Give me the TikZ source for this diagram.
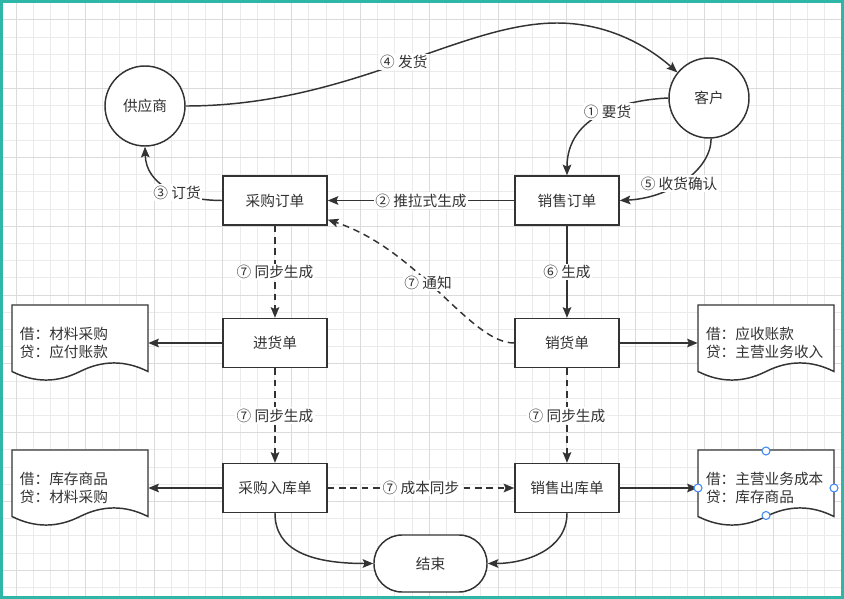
\documentclass[tikz,border=0pt]{standalone}
\usepackage{fontspec}
\setmainfont{Noto Sans CJK SC}
\usetikzlibrary{arrows.meta}

\definecolor{frameteal}{RGB}{46,182,166}
\definecolor{inkgray}{RGB}{51,51,51}
\definecolor{handleblue}{RGB}{66,139,245}

\newcommand*{\boxw}{78pt}
\newcommand*{\boxh}{36.75pt}
\newcommand*{\gridstep}{17.2}

\begin{document}
\begin{tikzpicture}[x=0.75pt, y=-0.75pt,
	every node/.style={font=\fontsize{11}{13.7}\selectfont, text=inkgray},
	conn/.style={draw=inkgray, line width=1.1pt},
	arr/.style={conn, -{Stealth[length=8pt,width=6.5pt,inset=1.5pt]}},
	dasharr/.style={arr, dash pattern=on 5pt off 3.5pt},
	lbl/.style={fill=white, inner sep=1pt},
	box/.style={conn, fill=white, minimum width=\boxw, minimum height=\boxh, inner sep=0pt},
	round/.style={conn, fill=white, circle, minimum size=60pt, inner sep=0pt},
	endbox/.style={conn, fill=white, rounded corners=21pt, minimum width=84.75pt, minimum height=42.75pt},
	voucher/.style={minimum width=102pt, minimum height=57pt, text width=90pt, align=left, inner xsep=6pt},
	gridminor/.style={draw=black!8, line width=0.75pt},
	gridmajor/.style={draw=black!14, line width=0.75pt},
	handle/.style={draw=handleblue, fill=white, line width=0.8pt}]

	\useasboundingbox (0,0) rectangle (844,599);

	% grid
	\foreach \i in {0,...,48}
		\draw[gridminor] ({16.5+\gridstep*\i},2.5) -- ({16.5+\gridstep*\i},596.5);
	\foreach \j in {0,...,33}
		\draw[gridminor] (2.5,{20+\gridstep*\j}) -- (841.5,{20+\gridstep*\j});
	\foreach \i in {0,4,...,48}
		\draw[gridmajor] ({16.5+\gridstep*\i},2.5) -- ({16.5+\gridstep*\i},596.5);
	\foreach \j in {0,4,...,32}
		\draw[gridmajor] (2.5,{20+\gridstep*\j}) -- (841.5,{20+\gridstep*\j});

	% voucher outlines
	\foreach \cx/\cy in {80/343, 80/488, 766/343, 766/488}
		\draw[conn, fill=white, shift={(\cx,\cy)}] (-68,-38) -- (68,-38) -- (68,28.5)
			.. controls (45.3,17.1) and (22.7,17.1) .. (0,28.5)
			.. controls (-22.7,39.9) and (-45.3,39.9) .. (-68,28.5) -- cycle;

	\node[round] (gys) at (145,106) {供应商};
	\node[round] (kh) at (709,98) {客户};
	\node[box] (cgdd) at (275,200.5) {采购订单};
	\node[box] (xsdd) at (567,200.5) {销售订单};
	\node[box] (jhd) at (275,343) {进货单};
	\node[box] (xhd) at (567,343) {销货单};
	\node[box] (cgrk) at (275,488) {采购入库单};
	\node[box] (xsck) at (567,488) {销售出库单};
	\node[endbox] (js) at (430.5,563.5) {结束};

	\node[voucher] (pz1) at (80,343) {借：材料采购\\贷：应付账款};
	\node[voucher] (pz2) at (80,488) {借：库存商品\\贷：材料采购};
	\node[voucher] (pz3) at (766,343) {借：应收账款\\贷：主营业务收入};
	\node[voucher] (pz4) at (766,488) {借：主营业务成本\\贷：库存商品};

	% supplier and customer
	\draw[arr] (gys.east) .. controls (350,106) and (460,23) .. (557,23) node[lbl,pos=0.52] {④ 发货}
		.. controls (610,23) and (650,48) .. (kh.141);
	\draw[arr] (kh.west) .. controls (625,100) and (567,115) .. (xsdd.north) node[lbl,pos=0.45] {① 要货};
	\draw[arr] (kh.-87) .. controls (711,170) and (670,198) .. (xsdd.east) node[lbl,pos=0.55] {⑤ 收货确认};
	\draw[arr] (xsdd) -- (cgdd) node[lbl,midway] {② 推拉式生成};
	\draw[arr] (cgdd.west) .. controls (180,200.5) and (146,185) .. (gys.south) node[lbl,pos=0.4] {③ 订货};

	% orders
	\draw[arr] (xsdd) -- (xhd) node[lbl,midway] {⑥ 生成};
	\draw[dasharr] (cgdd) -- (jhd) node[lbl,midway] {⑦ 同步生成};
	\draw[dasharr] (jhd) -- (cgrk) node[lbl,midway] {⑦ 同步生成};
	\draw[dasharr] (xhd) -- (xsck) node[lbl,midway] {⑦ 同步生成};
	\draw[dasharr] (cgrk) -- (xsck) node[lbl,midway] {⑦ 成本同步};
	\draw[dasharr] (xhd.west) .. controls (470,343) and (420,250) .. (cgdd.-20) node[lbl,pos=0.56] {⑦ 通知};

	% vouchers
	\draw[arr] (jhd) -- (pz1);
	\draw[arr] (xhd) -- (pz3);
	\draw[arr] (cgrk) -- (pz2);
	\draw[arr] (xsck) -- (pz4);

	% end
	\draw[arr] (cgrk.south) .. controls (275,550) and (310,563.5) .. (js.west);
	\draw[arr] (xsck.south) .. controls (567,550) and (525,563.5) .. (js.east);

	\foreach \h in {(766,451),(698,488),(834,488),(766,515.5)}
		\draw[handle] \h circle (3pt);

	\draw[frameteal, line width=1.9pt] (1.25,1.25) rectangle (842.75,597.75);

\end{tikzpicture}
\end{document}
